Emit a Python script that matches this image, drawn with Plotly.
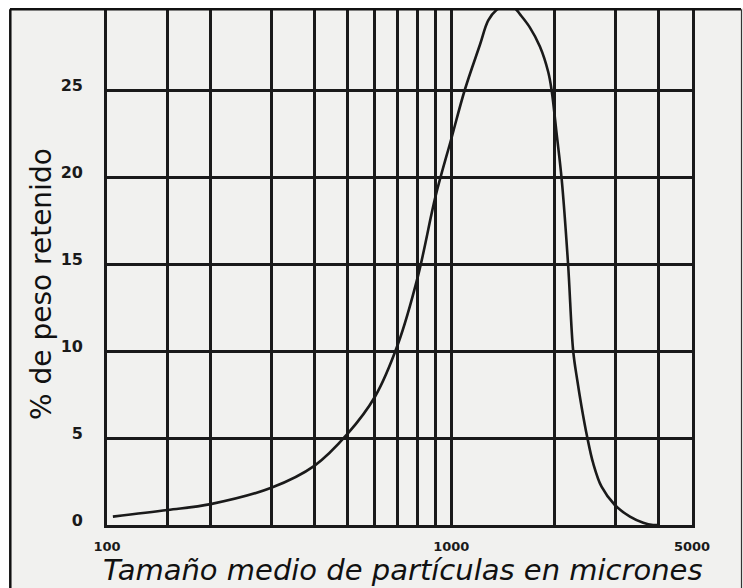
import math
import plotly.graph_objects as go

# ---- data ----
size_um = [104, 150, 200, 300, 400, 500, 600, 700, 800, 900,
           1000, 1094, 1211, 1280, 1352, 1430, 1510, 1590, 1690, 1808, 1911, 1955,
           2022, 2091, 2183, 2259, 2321, 2389, 2480, 2582, 2731, 2984, 3302, 3608,
           3855, 4000]
pct_retained = [0.48, 0.86, 1.2, 2.14, 3.4, 5.25, 7.37, 10.4, 14.3, 18.9,
                22.2, 25.0, 27.6, 29.0, 29.6, 29.85, 29.8, 29.3, 28.6, 27.5,
                26.05, 25.0, 22.5, 19.9, 15.0, 10.0, 8.33, 6.8, 5.07, 3.55, 2.2, 1.15,
                0.48, 0.13, 0.0, 0.0]

x_grid = [100, 150, 200, 300, 400, 500, 600, 700, 800, 900, 1000, 2000, 3000, 4000, 5000]
x_labels = ["100", "", "", "", "", "", "", "", "", "", "1000", "", "", "", "5000"]
y_ticks = [0, 5, 10, 15, 20, 25, 30]
y_labels = ["0", "5", "10", "15", "20", "25", "30"]

x_title = "Tamaño medio de partículas en micrones"
y_title = "% de peso retenido"

INK = "#1a1a1a"
PAPER = "#f1f1ef"

fig = go.Figure()
fig.add_trace(go.Scatter(
    x=size_um, y=pct_retained, mode="lines",
    line=dict(color=INK, width=2.6, shape="spline", smoothing=1.0),
    showlegend=False, hoverinfo="skip",
))

W, H = 743, 588
L, R, T, B = 107, 51, 3, 63
pw, ph = W - L - R, H - T - B


def px(xp):
    return (xp - L) / pw


def py(yp):
    return (H - B - yp) / ph


fig.update_layout(
    width=W, height=H,
    margin=dict(l=L, r=R, t=T, b=B, autoexpand=False),
    paper_bgcolor=PAPER, plot_bgcolor=PAPER,
    xaxis=dict(
        type="log", range=[2, math.log10(5000)], automargin=False,
        tickmode="array", tickvals=x_grid, ticktext=x_labels,
        showgrid=True, gridcolor=INK, gridwidth=2.8,
        showline=True, linecolor=INK, linewidth=2.8, mirror=True,
        ticks="", zeroline=False,
        tickfont=dict(family="DejaVu Sans", size=13, color=INK, weight="bold"),
        ticklabelstandoff=7,
    ),
    yaxis=dict(
        range=[0, 30], automargin=False,
        tickmode="array", tickvals=y_ticks, ticktext=y_labels,
        showgrid=True, gridcolor=INK, gridwidth=2.8,
        showline=True, linecolor=INK, linewidth=2.8, mirror=True,
        ticks="", zeroline=False,
        tickfont=dict(family="DejaVu Sans", size=16, color=INK, weight="bold"),
        ticklabelstandoff=18, ticklabelshift=-5,
    ),
)

# axis titles placed as in the scan
fig.add_annotation(
    text=x_title, showarrow=False,
    xref="paper", yref="paper", x=px(402), y=py(570),
    xanchor="center", yanchor="middle",
    font=dict(family="DejaVu Sans", size=29, color="#111", style="italic"),
)
fig.add_annotation(
    text=y_title, textangle=-90, showarrow=False,
    xref="paper", yref="paper", x=px(41), y=py(284),
    xanchor="center", yanchor="middle",
    font=dict(family="DejaVu Sans", size=28, color="#111"),
)

# scan frame: white margin strip at the top and a black border line
shapes = [
    dict(type="rect", xref="paper", yref="paper", x0=px(-5), x1=px(W + 5),
         y0=py(8), y1=py(-5), fillcolor="white", line=dict(width=0), layer="above"),
    dict(type="rect", xref="paper", yref="paper", x0=px(-5), x1=px(9),
         y0=py(H + 5), y1=py(-5), fillcolor="white", line=dict(width=0), layer="above"),
    dict(type="line", xref="paper", yref="paper", x0=px(10), x1=px(741),
         y0=py(9.3), y1=py(9.3), line=dict(color="#111", width=2.5), layer="above"),
    dict(type="line", xref="paper", yref="paper", x0=px(10.3), x1=px(10.3),
         y0=py(9.3), y1=py(H + 5), line=dict(color="#111", width=2.5), layer="above"),
    dict(type="line", xref="paper", yref="paper", x0=px(741.5), x1=px(741.5),
         y0=py(9.3), y1=py(H + 5), line=dict(color="#333", width=1.2), layer="above"),
]
fig.update_layout(shapes=shapes)

fig.write_html("out.html", config={"displayModeBar": False},
               post_script="document.body.style.margin='0px';")
